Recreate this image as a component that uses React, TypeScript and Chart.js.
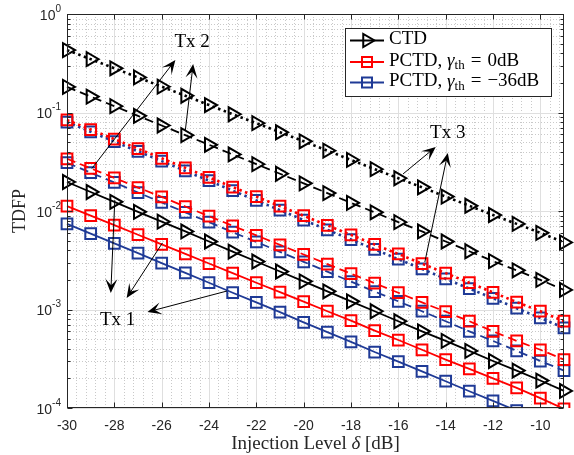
import React, { useEffect, useRef } from 'react';
import { Chart, registerables } from 'chart.js';

Chart.register(...registerables);

// ---------- data ----------
const injectionLevels = [-30, -29, -28, -27, -26, -25, -24, -23, -22, -21, -20, -19, -18, -17, -16, -15, -14, -13, -12, -11, -10, -9];

const ctdTx3 = [0.43, 0.348, 0.281, 0.227, 0.183, 0.148, 0.119, 0.096, 0.078, 0.063, 0.051, 0.041, 0.033, 0.0266, 0.0215, 0.0174, 0.014, 0.0113, 0.0091, 0.0074, 0.006, 0.0048];
const ctdTx2 = [0.182, 0.145, 0.116, 0.0925, 0.0738, 0.0589, 0.047, 0.0375, 0.0299, 0.0239, 0.0191, 0.0152, 0.0121, 0.0097, 0.0077, 0.0062, 0.0049, 0.0039, 0.0031, 0.0025, 0.002, 0.00158];
const ctdTx1 = [0.0197, 0.0156, 0.0124, 0.0098, 0.0078, 0.0062, 0.0049, 0.00387, 0.00307, 0.00243, 0.00193, 0.00153, 0.00121, 0.00096, 0.00076, 0.0006, 0.00048, 0.00038, 0.0003, 0.00024, 0.00019, 0.000149];

const pctd0Tx3 = [0.084, 0.0671, 0.0537, 0.0429, 0.0343, 0.0274, 0.0219, 0.0175, 0.014, 0.0112, 0.00895, 0.00716, 0.00572, 0.00457, 0.00366, 0.00292, 0.00234, 0.00187, 0.00149, 0.00119, 0.00096, 0.00076];
const pctd0Tx2 = [0.0339, 0.0271, 0.0217, 0.0173, 0.0139, 0.0111, 0.00886, 0.00708, 0.00566, 0.00453, 0.00362, 0.00289, 0.00231, 0.00185, 0.00148, 0.00118, 0.00095, 0.00076, 0.0006, 0.00048, 0.00039, 0.00031];
const pctd0Tx1 = [0.0112, 0.00897, 0.00718, 0.00574, 0.00459, 0.00367, 0.00293, 0.00234, 0.00187, 0.0015, 0.0012, 0.00096, 0.00077, 0.00061, 0.00049, 0.00039, 0.00031, 0.00025, 0.0002, 0.00016, 0.000126, 0.000098];

const pctd36Tx3 = [0.08, 0.0637, 0.0507, 0.0403, 0.0321, 0.0255, 0.0203, 0.0161, 0.0128, 0.0102, 0.0081, 0.00645, 0.00513, 0.00408, 0.00324, 0.00258, 0.00205, 0.00163, 0.0013, 0.00103, 0.00082, 0.00065];
const pctd36Tx2 = [0.0309, 0.0245, 0.0195, 0.0154, 0.0122, 0.0097, 0.0077, 0.0061, 0.00485, 0.00385, 0.00305, 0.00242, 0.00192, 0.00152, 0.00121, 0.00096, 0.00076, 0.0006, 0.00048, 0.00038, 0.0003, 0.00024];
const pctd36Tx1 = [0.0074, 0.0059, 0.0047, 0.00373, 0.00296, 0.00235, 0.00187, 0.00148, 0.00118, 0.00094, 0.00074, 0.00059, 0.00047, 0.00037, 0.000296, 0.000235, 0.000187, 0.000148, 0.000118, 0.000094, 0.000074, 0.000059];

const xTickValues = [-30, -28, -26, -24, -22, -20, -18, -16, -14, -12, -10];
const xTickLabels = ['-30', '-28', '-26', '-24', '-22', '-20', '-18', '-16', '-14', '-12', '-10'];
const yTickExponents = [0, -1, -2, -3, -4];

const legendLabels = ['CTD', 'PCTD, γth = 0dB', 'PCTD, γth = −36dB'];

// annotation arrows, in data coordinates [dB, TDFP]
const tx1Arrows = [
  { from: [-27.98, 0.0129], to: [-28.15, 0.00147] },
  { from: [-25.97, 0.00473], to: [-27.48, 0.00131] },
  { from: [-23.24, 0.00154], to: [-26.6, 0.000944] },
];
const tx2Arrows = [
  { from: [-28.95, 0.027], to: [-25.42, 0.341] },
  { from: [-25.0, 0.066], to: [-24.67, 0.31] },
];
const tx3Arrows = [
  { from: [-15.8, 0.0238], to: [-14.42, 0.0447] },
  { from: [-14.88, 0.00303], to: [-13.91, 0.0388] },
];
const txLabels = [
  { text: 'Tx 1', at: [-27.86, 0.00078] },
  { text: 'Tx 2', at: [-24.71, 0.52] },
  { text: 'Tx 3', at: [-13.91, 0.062] },
];

// ---------- styles ----------
const RED = '#ff0000';
const BLUE = '#1f3a96';
const BLACK = '#000000';
const AXIS = '#262626';
const SERIF = '"Liberation Serif", "DejaVu Serif", serif';
const SANS = '"Liberation Sans", Arial, sans-serif';

const DASHES: Record<string, number[]> = { solid: [], dashed: [9, 5], dotted: [2.5, 3.5] };
const WIDTHS: Record<string, number> = { solid: 1.8, dashed: 1.8, dotted: 2.6 };

function makeDataset(label: string, values: number[], color: string, style: string, marker: 'tri' | 'sq') {
  return {
    label,
    data: injectionLevels.map((x, i) => ({ x, y: values[i] })),
    borderColor: color,
    backgroundColor: 'transparent',
    borderWidth: WIDTHS[style],
    borderDash: DASHES[style],
    borderCapStyle: 'butt' as const,
    pointStyle: marker === 'tri' ? 'triangle' : 'rect',
    pointRotation: marker === 'tri' ? 90 : 0,
    pointRadius: marker === 'tri' ? 8 : 7.6,
    pointBorderWidth: 2,
    pointBorderColor: color,
    pointBackgroundColor: 'rgba(0,0,0,0)',
    tension: 0,
    fill: false,
    clip: { left: 14, right: 14, top: 14, bottom: 0 },
  };
}

function drawArrow(ctx: CanvasRenderingContext2D, x1: number, y1: number, x2: number, y2: number) {
  const ang = Math.atan2(y2 - y1, x2 - x1);
  const L = 14;
  const W = 6;
  const cx = Math.cos(ang);
  const sy = Math.sin(ang);
  const nx = -sy;
  const ny = cx;
  ctx.beginPath();
  ctx.moveTo(x1, y1);
  ctx.lineTo(x2 - cx * L * 0.5, y2 - sy * L * 0.5);
  ctx.stroke();
  const bx = x2 - cx * L;
  const by = y2 - sy * L;
  const kx = x2 - cx * L * 0.55;
  const ky = y2 - sy * L * 0.55;
  ctx.beginPath();
  ctx.moveTo(x2, y2);
  ctx.lineTo(bx + nx * W, by + ny * W);
  ctx.lineTo(kx, ky);
  ctx.lineTo(bx - nx * W, by - ny * W);
  ctx.closePath();
  ctx.fill();
}

function triRight(ctx: CanvasRenderingContext2D, cx: number, cy: number, r: number) {
  ctx.beginPath();
  ctx.moveTo(cx + r, cy);
  ctx.lineTo(cx - 0.5 * r, cy + 0.866 * r);
  ctx.lineTo(cx - 0.5 * r, cy - 0.866 * r);
  ctx.closePath();
  ctx.stroke();
}

const framePlugin = {
  id: 'matlabFrame',
  beforeDatasetsDraw(chart: any) {
    const { ctx, chartArea: a, scales } = chart;
    const xs = scales.x;
    const ys = scales.y;
    ctx.save();
    ctx.fillStyle = '#ffffff';
    ctx.fillRect(a.left, a.top, a.right - a.left, a.bottom - a.top);
    // minor grid (dotted)
    ctx.strokeStyle = '#c9c9c9';
    ctx.lineWidth = 1;
    ctx.setLineDash([1, 2]);
    for (let k = 1; k <= 52; k++) {
      if (k % 5 === 0) continue;
      const px = Math.round(xs.getPixelForValue(-30 + 0.4 * k)) + 0.5;
      ctx.beginPath();
      ctx.moveTo(px, a.top);
      ctx.lineTo(px, a.bottom);
      ctx.stroke();
    }
    for (let e = -4; e < 0; e++) {
      for (let m = 2; m <= 9; m++) {
        const py = Math.round(ys.getPixelForValue(m * Math.pow(10, e))) + 0.5;
        ctx.beginPath();
        ctx.moveTo(a.left, py);
        ctx.lineTo(a.right, py);
        ctx.stroke();
      }
    }
    // major grid
    ctx.setLineDash([]);
    ctx.strokeStyle = '#dfdfdf';
    xTickValues.forEach((v) => {
      const px = Math.round(xs.getPixelForValue(v)) + 0.5;
      ctx.beginPath();
      ctx.moveTo(px, a.top);
      ctx.lineTo(px, a.bottom);
      ctx.stroke();
    });
    yTickExponents.forEach((e) => {
      const py = Math.round(ys.getPixelForValue(Math.pow(10, e))) + 0.5;
      ctx.beginPath();
      ctx.moveTo(a.left, py);
      ctx.lineTo(a.right, py);
      ctx.stroke();
    });
    ctx.restore();
  },
  afterDatasetsDraw(chart: any) {
    const { ctx, chartArea: a, scales } = chart;
    const xs = scales.x;
    const ys = scales.y;
    const P = (pt: number[]) => [xs.getPixelForValue(pt[0]), ys.getPixelForValue(pt[1])];
    ctx.save();

    // arrows
    ctx.strokeStyle = BLACK;
    ctx.fillStyle = BLACK;
    ctx.lineWidth = 1;
    ctx.setLineDash([]);
    [...tx1Arrows, ...tx2Arrows, ...tx3Arrows].forEach((ar) => {
      const [x1, y1] = P(ar.from);
      const [x2, y2] = P(ar.to);
      drawArrow(ctx, x1, y1, x2, y2);
    });
    ctx.font = `19px ${SERIF}`;
    ctx.textAlign = 'center';
    ctx.textBaseline = 'middle';
    txLabels.forEach((t) => {
      const [px, py] = P(t.at);
      ctx.fillText(t.text, px, py);
    });

    // axes box
    const L = Math.round(a.left) + 0.5;
    const R = Math.round(a.right) - 0.5;
    const T = Math.round(a.top) + 0.5;
    const B = Math.round(a.bottom) - 0.5;
    ctx.strokeStyle = AXIS;
    ctx.lineWidth = 1;
    ctx.strokeRect(L, T, R - L, B - T);

    // ticks
    ctx.beginPath();
    xTickValues.forEach((v) => {
      const px = Math.round(xs.getPixelForValue(v)) + 0.5;
      ctx.moveTo(px, B);
      ctx.lineTo(px, B - 5);
      ctx.moveTo(px, T);
      ctx.lineTo(px, T + 5);
    });
    yTickExponents.forEach((e) => {
      const py = Math.round(ys.getPixelForValue(Math.pow(10, e))) + 0.5;
      ctx.moveTo(L, py);
      ctx.lineTo(L + 5, py);
      ctx.moveTo(R, py);
      ctx.lineTo(R - 5, py);
    });
    for (let e = -4; e < 0; e++) {
      for (let m = 2; m <= 9; m++) {
        const py = Math.round(ys.getPixelForValue(m * Math.pow(10, e))) + 0.5;
        ctx.moveTo(L, py);
        ctx.lineTo(L + 3, py);
        ctx.moveTo(R, py);
        ctx.lineTo(R - 3, py);
      }
    }
    ctx.stroke();

    // x tick labels
    ctx.fillStyle = AXIS;
    ctx.font = `14px ${SANS}`;
    ctx.textAlign = 'center';
    ctx.textBaseline = 'middle';
    xTickValues.forEach((v, i) => {
      ctx.fillText(xTickLabels[i], xs.getPixelForValue(v), a.bottom + 18);
    });

    // y tick labels 10^e
    yTickExponents.forEach((e) => {
      const py = ys.getPixelForValue(Math.pow(10, e));
      const sup = e === 0 ? '0' : `-${-e}`;
      ctx.font = `10px ${SANS}`;
      const sw = ctx.measureText(sup).width;
      const right = a.left - 6;
      ctx.textAlign = 'right';
      ctx.textBaseline = 'middle';
      ctx.fillText(sup, right, py - 5);
      ctx.font = `14px ${SANS}`;
      ctx.fillText('10', right - sw, py + 2);
    });

    // axis titles
    const XF = 19;
    ctx.fillStyle = AXIS;
    ctx.font = `${XF}px ${SERIF}`;
    ctx.textBaseline = 'middle';
    const p1 = 'Injection Level ';
    const p3 = ' [dB]';
    const w1 = ctx.measureText(p1).width;
    const w3 = ctx.measureText(p3).width;
    ctx.font = `italic ${XF}px ${SERIF}`;
    const w2 = ctx.measureText('δ').width;
    const total = w1 + w2 + w3;
    const cxl = (a.left + a.right) / 2;
    let sx = cxl - total / 2;
    const ly = a.bottom + 36;
    ctx.textAlign = 'left';
    ctx.font = `${XF}px ${SERIF}`;
    ctx.fillText(p1, sx, ly);
    sx += w1;
    ctx.font = `italic ${XF}px ${SERIF}`;
    ctx.fillText('δ', sx, ly);
    sx += w2;
    ctx.font = `${XF}px ${SERIF}`;
    ctx.fillText(p3, sx, ly);

    ctx.save();
    ctx.translate(20, (a.top + a.bottom) / 2);
    ctx.rotate(-Math.PI / 2);
    ctx.textAlign = 'center';
    ctx.font = `18px ${SERIF}`;
    ctx.fillText('TDFP', 0, 0);
    ctx.restore();

    // legend
    const lx = 345.5, ly0 = 28.5, lw = 206, lh = 68;
    ctx.fillStyle = '#ffffff';
    ctx.fillRect(lx, ly0, lw, lh);
    ctx.strokeStyle = AXIS;
    ctx.lineWidth = 1;
    ctx.strokeRect(lx, ly0, lw, lh);
    const rows = [40.5, 62, 82.5];
    const colors = [BLACK, RED, BLUE];
    rows.forEach((ry, i) => {
      ctx.strokeStyle = colors[i];
      ctx.lineWidth = 2;
      ctx.setLineDash([]);
      ctx.beginPath();
      ctx.moveTo(350, ry);
      ctx.lineTo(384, ry);
      ctx.stroke();
      ctx.lineWidth = 2;
      if (i === 0) triRight(ctx, 367, ry, 7.5);
      else ctx.strokeRect(367 - 5, ry - 5, 10, 10);
      ctx.fillStyle = BLACK;
      ctx.textAlign = 'left';
      ctx.textBaseline = 'middle';
      let tx = 389;
      if (i === 0) {
        ctx.font = `19px ${SERIF}`;
        ctx.fillText(legendLabels[0], tx, ry - 1);
      } else {
        const full = legendLabels[i];
        const head = 'PCTD, ';
        const tail = full.split('= ')[1];
        ctx.font = `19px ${SERIF}`;
        ctx.fillText(head, tx, ry - 1);
        tx += ctx.measureText(head).width;
        ctx.font = `italic 19px ${SERIF}`;
        ctx.fillText('γ', tx, ry - 1);
        tx += ctx.measureText('γ').width;
        ctx.font = `13px ${SERIF}`;
        ctx.fillText('th', tx, ry + 4);
        tx += ctx.measureText('th').width + 6;
        ctx.font = `19px ${SERIF}`;
        ctx.fillText('=', tx, ry - 1);
        tx += ctx.measureText('=').width + 6;
        ctx.fillText(tail, tx, ry - 1);
      }
    });

    ctx.restore();
  },
};

export default function App() {
  const ref = useRef<HTMLCanvasElement | null>(null);
  useEffect(() => {
    document.body.style.margin = '0';
    const canvas = ref.current;
    if (!canvas) return;
    const chart = new Chart(canvas, {
      type: 'line',
      data: {
        datasets: [
          makeDataset('CTD Tx3', ctdTx3, BLACK, 'dotted', 'tri'),
          makeDataset('CTD Tx2', ctdTx2, BLACK, 'dashed', 'tri'),
          makeDataset('CTD Tx1', ctdTx1, BLACK, 'solid', 'tri'),
          makeDataset('PCTD 0dB Tx3', pctd0Tx3, RED, 'dotted', 'sq'),
          makeDataset('PCTD 0dB Tx2', pctd0Tx2, RED, 'dashed', 'sq'),
          makeDataset('PCTD 0dB Tx1', pctd0Tx1, RED, 'solid', 'sq'),
          makeDataset('PCTD -36dB Tx3', pctd36Tx3, BLUE, 'dotted', 'sq'),
          makeDataset('PCTD -36dB Tx2', pctd36Tx2, BLUE, 'dashed', 'sq'),
          makeDataset('PCTD -36dB Tx1', pctd36Tx1, BLUE, 'solid', 'sq'),
        ] as any,
      },
      options: {
        animation: false,
        responsive: false,
        maintainAspectRatio: false,
        layout: { padding: { top: 14, right: 7, left: 0, bottom: 0 } },
        plugins: { legend: { display: false }, tooltip: { enabled: false } },
        scales: {
          x: {
            type: 'linear',
            min: -30,
            max: -9,
            ticks: { display: false },
            grid: { display: false },
            border: { display: false },
            afterFit: (s: any) => { s.height = 47; },
          },
          y: {
            type: 'logarithmic',
            min: 1e-4,
            max: 1,
            ticks: { display: false },
            grid: { display: false },
            border: { display: false },
            afterFit: (s: any) => { s.width = 67; },
          },
        },
      } as any,
      plugins: [framePlugin],
    });
    return () => chart.destroy();
  }, []);
  return (
    <div style={{ width: 574, height: 455, background: '#fff' }}>
      <canvas ref={ref} width={574} height={455} style={{ display: 'block' }} />
    </div>
  );
}
